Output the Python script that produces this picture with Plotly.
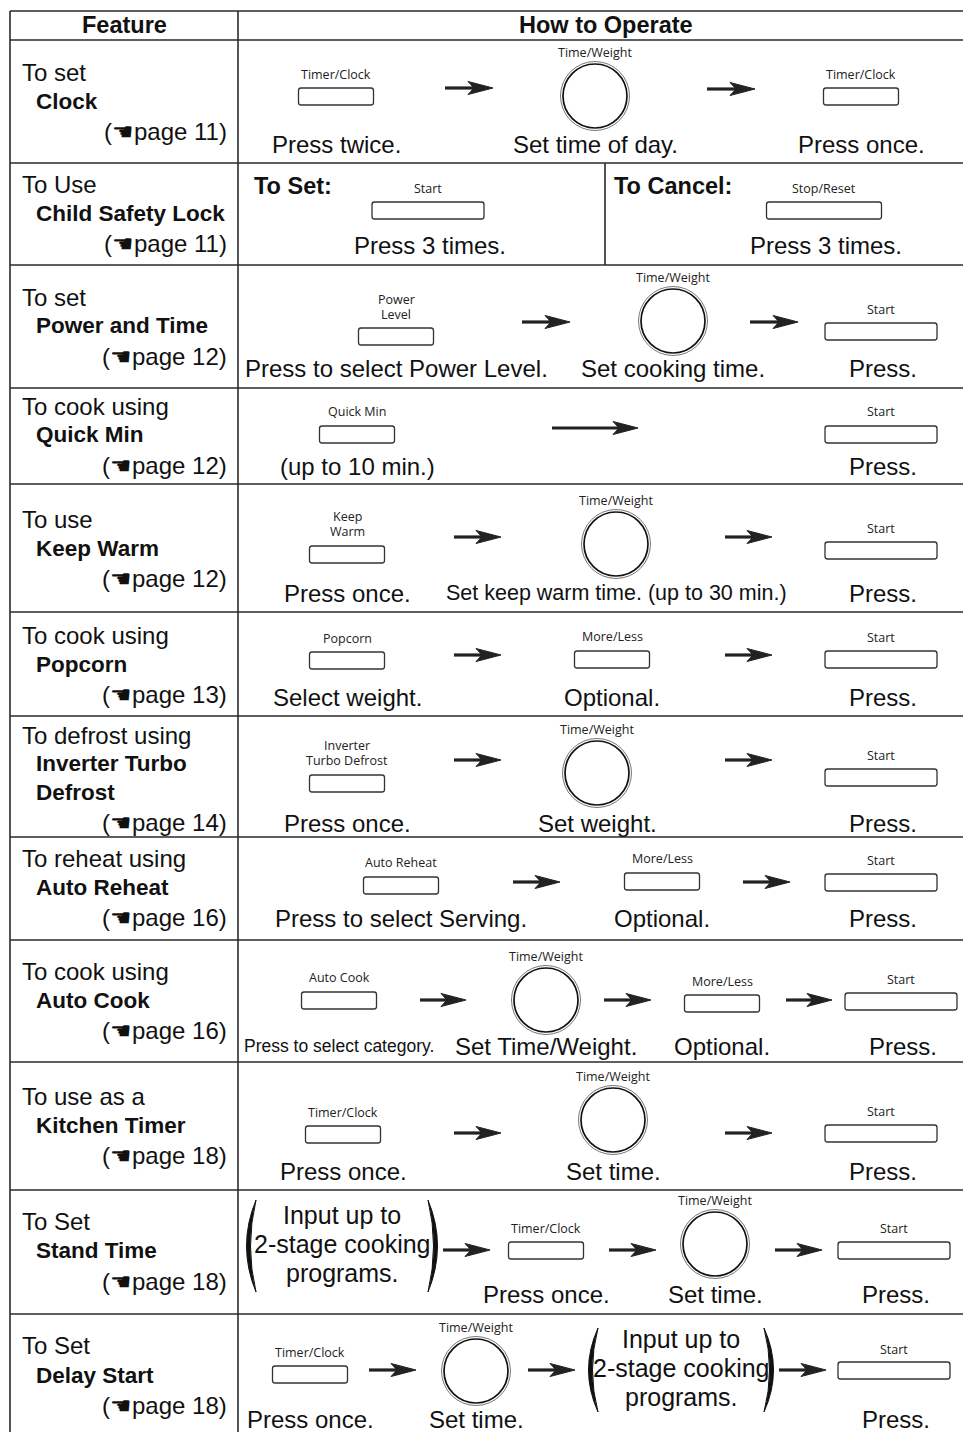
import plotly.graph_objects as go

# ---------------- content ----------------
headers = ["Feature", "How to Operate"]
feature_intro = ["To set", "To Use", "To set", "To cook using", "To use", "To cook using",
                 "To defrost using", "To reheat using", "To cook using", "To use as a",
                 "To Set", "To Set"]
feature_name = ["Clock", "Child Safety Lock", "Power and Time", "Quick Min", "Keep Warm",
                "Popcorn", "Inverter Turbo<br>Defrost", "Auto Reheat", "Auto Cook",
                "Kitchen Timer", "Stand Time", "Delay Start"]
feature_page = [11, 11, 12, 12, 12, 13, 14, 16, 16, 18, 18, 18]
program_text = ["Input up to", "2-stage cooking", "programs."]

# steps: (kind, label, caption)  kinds: btn, wbtn (wide button), dial, arrow, larrow, paren
steps = [
    [("btn", "Timer/Clock", "Press twice."), ("arrow",), ("dial", "Time/Weight", "Set time of day."),
     ("arrow",), ("btn", "Timer/Clock", "Press once.")],
    [("wbtn", "Start", "Press 3 times."), ("wbtn", "Stop/Reset", "Press 3 times.")],
    [("btn", "Power<br>Level", "Press to select Power Level."), ("arrow",),
     ("dial", "Time/Weight", "Set cooking time."), ("arrow",), ("wbtn", "Start", "Press.")],
    [("btn", "Quick Min", "(up to 10 min.)"), ("larrow",), ("wbtn", "Start", "Press.")],
    [("btn", "Keep<br>Warm", "Press once."), ("arrow",),
     ("dial", "Time/Weight", "Set keep warm time. (up to 30 min.)"), ("arrow",), ("wbtn", "Start", "Press.")],
    [("btn", "Popcorn", "Select weight."), ("arrow",), ("btn", "More/Less", "Optional."),
     ("arrow",), ("wbtn", "Start", "Press.")],
    [("btn", "Inverter<br>Turbo Defrost", "Press once."), ("arrow",), ("dial", "Time/Weight", "Set weight."),
     ("arrow",), ("wbtn", "Start", "Press.")],
    [("btn", "Auto Reheat", "Press to select Serving."), ("arrow",), ("btn", "More/Less", "Optional."),
     ("arrow",), ("wbtn", "Start", "Press.")],
    [("btn", "Auto Cook", "Press to select category."), ("arrow",), ("dial", "Time/Weight", "Set Time/Weight."),
     ("arrow",), ("btn", "More/Less", "Optional."), ("arrow",), ("wbtn", "Start", "Press.")],
    [("btn", "Timer/Clock", "Press once."), ("arrow",), ("dial", "Time/Weight", "Set time."),
     ("arrow",), ("wbtn", "Start", "Press.")],
    [("paren", program_text, ""), ("arrow",), ("btn", "Timer/Clock", "Press once."), ("arrow",),
     ("dial", "Time/Weight", "Set time."), ("arrow",), ("wbtn", "Start", "Press.")],
    [("btn", "Timer/Clock", "Press once."), ("arrow",), ("dial", "Time/Weight", "Set time."),
     ("arrow",), ("paren", program_text, ""), ("arrow",), ("wbtn", "Start", "Press.")],
]

# ---------------- layout geometry (pixels) ----------------
W, H = 971, 1440
OFF = 8  # page body margin compensation
row_lines = [40, 163, 265, 388, 484, 612, 716, 837, 940, 1062, 1190, 1314]
feat_y = [(72, 101, 131), (184, 213, 243), (297, 325, 356), (406, 434, 465), (519, 548, 578),
          (635, 664, 694), (735, 778, 822), (858, 887, 917), (971, 1000, 1030), (1096, 1125, 1155),
          (1221, 1250, 1281), (1345, 1375, 1405)]
# buttons (cx, label_y, box_top); dial (cx, cy, label_y); arrow (x0, x1, y); paren (cx, cy, half_w, half_h)
geo = [
    [(336, 74, 88), (445, 493, 88), (595, 96, 52), (707, 755, 89), (861, 74, 88)],
    [(430, 188, 202), (826, 188, 202)],
    [(396, 307, 328), (522, 570, 322), (673, 321, 277), (750, 798, 322), (883, 309, 323)],
    [(357, 411, 426), (552, 638, 428), (883, 411, 426)],
    [(347, 524, 546), (454, 501, 537), (616, 544, 500), (725, 772, 537), (883, 528, 542)],
    [(347, 638, 652), (454, 501, 655), (612, 636, 651), (725, 772, 655), (883, 637, 651)],
    [(347, 753, 775), (454, 501, 760), (597, 773, 729), (725, 772, 760), (883, 755, 769)],
    [(401, 862, 877), (513, 560, 882), (662, 858, 873), (743, 790, 882), (883, 860, 874)],
    [(339, 977, 992), (420, 466, 1000), (546, 1000, 956), (604, 651, 1000), (722, 981, 995),
     (786, 832, 1000), (903, 979, 993)],
    [(343, 1112, 1126), (454, 501, 1133), (613, 1120, 1076), (725, 772, 1133), (883, 1111, 1125)],
    [(342, 1246, 86, 46), (443, 490, 1250), (546, 1228, 1242), (609, 656, 1250), (715, 1244, 1200),
     (775, 822, 1250), (896, 1228, 1242)],
    [(310, 1352, 1366), (369, 416, 1370), (476, 1371, 1327), (528, 575, 1370), (681, 1370, 83, 42),
     (779, 826, 1370), (896, 1349, 1362)],
]
cap_y = [144, 245, 368, 466, 593, 697, 823, 918, 1046, 1171, 1294, 1419]
cap_x_override = {(2, 4): 883, (8, 0): 339}
cap_size_override = {"Press to select category.": 17.5, "Set keep warm time. (up to 30 min.)": 21.5}

MAIN = "Liberation Sans, Arial, Helvetica, sans-serif"
SMALL = "Open Sans, Liberation Sans, sans-serif"
LINE = "#2a2a2a"

shapes, annos = [], []


def text(x, y, s, size=24, bold=False, family=MAIN, xanchor="center", color="#111"):
    annos.append(dict(x=x, y=y, xref="x", yref="y", text=s, showarrow=False,
                      xanchor=xanchor, yanchor="middle",
                      font=dict(size=size, family=family, color=color,
                                weight="bold" if bold else "normal")))


def hline(y, x0=10, x1=W):
    shapes.append(dict(type="line", x0=x0, x1=x1, y0=y, y1=y, xref="x", yref="y",
                       line=dict(color=LINE, width=1.6)))


def vline(x, y0, y1):
    shapes.append(dict(type="line", x0=x, x1=x, y0=y0, y1=y1, xref="x", yref="y",
                       line=dict(color=LINE, width=1.6)))


def rbox(cx, top, w, h=17, r=2.5):
    x0, x1, y0, y1 = cx - w / 2, cx + w / 2, top, top + h
    p = (f"M {x0+r},{y0} L {x1-r},{y0} Q {x1},{y0} {x1},{y0+r} L {x1},{y1-r} Q {x1},{y1} {x1-r},{y1} "
         f"L {x0+r},{y1} Q {x0},{y1} {x0},{y1-r} L {x0},{y0+r} Q {x0},{y0} {x0+r},{y0} Z")
    shapes.append(dict(type="path", path=p, xref="x", yref="y", fillcolor="white",
                       line=dict(color="#333", width=1.3)))


def dial(cx, cy, r=34.5):
    shapes.append(dict(type="circle", x0=cx - r, x1=cx + r, y0=cy - r, y1=cy + r, xref="x", yref="y",
                       line=dict(color="#777", width=1.0)))
    r2 = r - 2.5
    shapes.append(dict(type="circle", x0=cx - r2, x1=cx + r2, y0=cy - r2, y1=cy + r2, xref="x", yref="y",
                       line=dict(color="#111", width=1.7)))


def arrow(x0, x1, y):
    shapes.append(dict(type="line", x0=x0, x1=x1 - 16, y0=y, y1=y, xref="x", yref="y",
                       line=dict(color="#222", width=3.2)))
    p = f"M {x1},{y} L {x1-25},{y-6.5} L {x1-19},{y} L {x1-25},{y+6.5} Z"
    shapes.append(dict(type="path", path=p, xref="x", yref="y", fillcolor="#222",
                       line=dict(color="#222", width=1)))


def paren(cx, cy, hw, hh):
    for side in (-1, 1):
        xe = cx + side * hw
        xo = xe + side * 19
        xi = xe + side * 11
        p = f"M {xe},{cy-hh} Q {xo},{cy} {xe},{cy+hh} Q {xi},{cy} {xe},{cy-hh} Z"
        shapes.append(dict(type="path", path=p, xref="x", yref="y", fillcolor="#111",
                           line=dict(color="#111", width=1)))


def multiline_label(cx, ly, label, size=12.5, gap=14.5):
    parts = label.split("<br>")
    n = len(parts)
    for k, ptxt in enumerate(parts):
        text(cx, ly + (k - (n - 1) / 2) * gap, ptxt, size=size, family=SMALL, color="#222")


# ---------------- table frame ----------------
hline(11)
for y in row_lines:
    hline(y)
vline(10, 11, H + OFF)
vline(238, 11, H + OFF)
vline(605, 163, 265)

text(124, 25, headers[0], size=23.5, bold=True)
text(606, 25, headers[1], size=23.5, bold=True)

# ---------------- feature column ----------------
for i in range(12):
    y1, y2, y3 = feat_y[i]
    text(20, y1, feature_intro[i], size=24, xanchor="left")
    if "<br>" in feature_name[i]:
        a, b = feature_name[i].split("<br>")
        text(34, y2 - 15, a, size=22.5, bold=True, xanchor="left")
        text(34, y2 + 14, b, size=22.5, bold=True, xanchor="left")
    else:
        text(34, y2, feature_name[i], size=22.5, bold=True, xanchor="left")
    text(229, y3, f"(\u261apage {feature_page[i]})", size=24, xanchor="right")

# ---------------- operation column ----------------
text(252, 186, "To Set:", size=23.5, bold=True, xanchor="left")
text(612, 186, "To Cancel:", size=23.5, bold=True, xanchor="left")

for i, row in enumerate(steps):
    for j, st in enumerate(row):
        g = geo[i][j]
        kind = st[0]
        if kind in ("btn", "wbtn"):
            cx, ly, top = g
            w = 112 if kind == "wbtn" else 75
            if i == 1 and j == 1:
                w = 115
            bx = cx - (2 if kind == "wbtn" else 0)
            rbox(bx, top, w)
            multiline_label(bx, ly, st[1])
            cap = st[2]
            text(cap_x_override.get((i, j), cx), cap_y[i], cap, size=cap_size_override.get(cap, 24))
        elif kind == "dial":
            cx, cy, ly = g
            dial(cx, cy)
            multiline_label(cx, ly, st[1])
            cap = st[2]
            text(cx, cap_y[i], cap, size=cap_size_override.get(cap, 24))
        elif kind in ("arrow", "larrow"):
            x0, x1, y = g
            arrow(x0, x1, y)
        elif kind == "paren":
            cx, cy, hw, hh = g
            paren(cx, cy, hw, hh)
            for k, line in enumerate(st[1]):
                text(cx, cy - 31 + k * 29, line, size=25)

fig = go.Figure()
fig.add_trace(go.Scatter(x=[OFF, W], y=[OFF, H], mode="markers", marker=dict(opacity=0), hoverinfo="skip",
                         showlegend=False))
fig.update_layout(
    width=W - OFF, height=H - 2 * OFF, margin=dict(l=0, r=0, t=0, b=0),
    paper_bgcolor="white", plot_bgcolor="white",
    xaxis=dict(range=[OFF, W], visible=False, fixedrange=True),
    yaxis=dict(range=[H - OFF, OFF], visible=False, fixedrange=True),
    shapes=shapes, annotations=annos, showlegend=False,
)
fig.write_html("out.html")
